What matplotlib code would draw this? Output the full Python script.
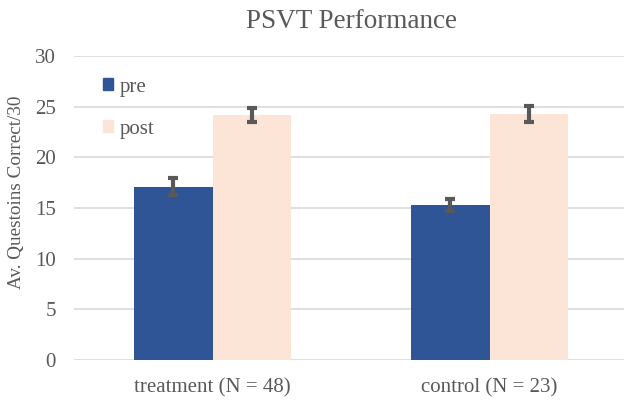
import numpy as np
import matplotlib.pyplot as plt
from matplotlib.patches import Patch

groups = ['treatment (N = 48)', 'control (N = 23)']
pre = [17.1, 15.3]
post = [24.2, 24.25]
pre_err = [0.85, 0.6]
post_err = [0.7, 0.8]
yticks = [0, 5, 10, 15, 20, 25, 30]

plt.rcParams['font.family'] = ['Liberation Serif', 'DejaVu Serif']

fig = plt.figure(figsize=(6.24, 4.0), dpi=100)
ax = fig.add_axes([74 / 624, 0.1, 554 / 624, 0.76])

x = np.arange(len(groups))
w = 0.285
pre_col = '#2F5597'
post_col = '#FCE4D6'
err_col = '#595959'
ekw = dict(ecolor=err_col, elinewidth=3, capsize=3.5, capthick=3)

ax.bar(x - w / 2, pre, w, color=pre_col, yerr=pre_err, error_kw=ekw, zorder=3)
ax.bar(x + w / 2, post, w, color=post_col, yerr=post_err, error_kw=ekw, zorder=3)

ax.set_xlim(-0.5, 1.5)
ax.set_ylim(0, 30)
ax.set_yticks(yticks)
ax.set_xticks(x)
ax.set_xticklabels(groups)
ax.yaxis.grid(True, color='#D9D9D9', linewidth=1.2, zorder=0)
ax.set_axisbelow(True)
for s in ax.spines.values():
    s.set_visible(False)
ax.tick_params(axis='both', length=0, labelsize=15, colors='#595959')
ax.tick_params(axis='y', pad=13)
ax.tick_params(axis='x', pad=13)

ax.set_ylabel('Av. Questoins Correct/30', fontsize=13.8, color='#595959')
ax.yaxis.set_label_coords(-0.088, 0.55)
ax.set_title('PSVT Performance', fontsize=19.5, color='#595959', pad=20)

handles = [Patch(color=pre_col, label='pre'), Patch(color=post_col, label='post')]
ax.legend(handles=handles, loc='upper left', bbox_to_anchor=(0.018, 0.99), frameon=False,
          fontsize=15, labelcolor='#595959', handlelength=0.5, handleheight=0.5,
          handletextpad=0.3, labelspacing=1.1)

fig.savefig('out.png', dpi=100)
